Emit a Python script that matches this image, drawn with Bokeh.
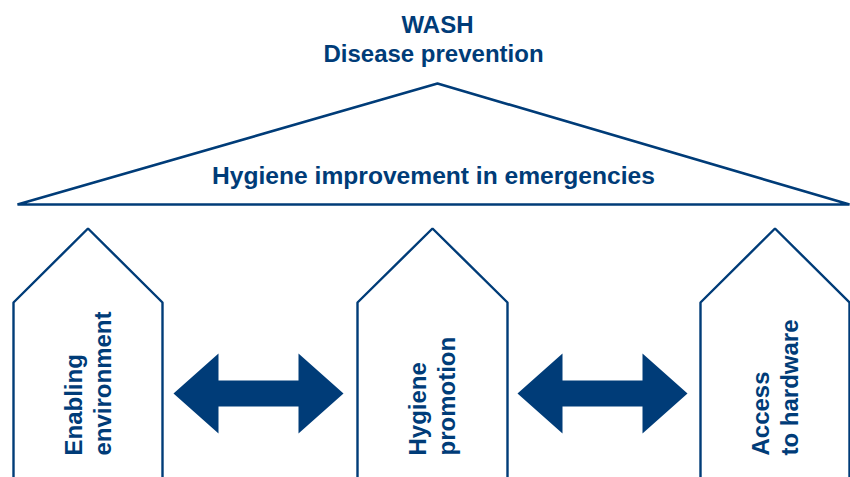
from bokeh.plotting import figure
from bokeh.models import Range1d, ColumnDataSource
from bokeh.core.properties import value
from bokeh.embed import file_html
from bokeh.resources import INLINE
import math

# ---- diagram content (reference pixel coordinates) ----
title_lines = ["WASH", "Disease prevention"]
roof_label = "Hygiene improvement in emergencies"
pillar_line1 = ["Enabling", "Hygiene", "Access"]
pillar_line2 = ["environment", "promotion", "to hardware"]
pillar_left = [13, 357, 700]
pillar_right = [162, 507, 849]
arrow_left = [173, 517]
arrow_right = [343, 687]

BLUE = "#003C78"
FONT = "Liberation Sans"

W, H = 850, 477
p = figure(width=W, height=H, output_backend="svg", toolbar_location=None,
           x_range=Range1d(0, 850), y_range=Range1d(477, 0),
           x_axis_type=None, y_axis_type=None, min_border=0,
           outline_line_color=None, background_fill_color="white")
p.grid.visible = False

# roof
roof_y_base, roof_apex_x, roof_apex_y = 204, 437, 83
p.patch([17, roof_apex_x, 849], [roof_y_base, roof_apex_y, roof_y_base],
        fill_color="white", line_color=BLUE, line_width=2.6)

# pillars (open at the bottom)
apex_y, shoulder_y, bottom_y = 228, 302, 480
xs, ys = [], []
for l, r in zip(pillar_left, pillar_right):
    xs.append([l, l, (l + r) / 2, r, r])
    ys.append([bottom_y, shoulder_y, apex_y, shoulder_y, bottom_y])
p.multi_line(xs, ys, line_color=BLUE, line_width=2.4)

# double arrows
ay, head_h, shaft_h, head_w = 393, 40, 13, 45
axs, ays = [], []
for x0, x1 in zip(arrow_left, arrow_right):
    axs.append([x0, x0 + head_w, x0 + head_w, x1 - head_w, x1 - head_w, x1,
                x1 - head_w, x1 - head_w, x0 + head_w, x0 + head_w])
    ays.append([ay, ay - head_h, ay - shaft_h, ay - shaft_h, ay - head_h, ay,
                ay + head_h, ay + shaft_h, ay + shaft_h, ay + head_h])
p.patches(axs, ays, fill_color=BLUE, line_color=None)

# titles
p.text(x=[437, 433], y=[24, 53], text=title_lines, text_color=BLUE,
       text_font=value(FONT), text_font_style="bold", text_font_size="24px",
       text_align="center", text_baseline="alphabetic")
p.text(x=[433], y=[175], text=[roof_label], text_color=BLUE,
       text_font=value(FONT), text_font_style="bold", text_font_size="24.6px",
       text_align="center", text_baseline="alphabetic")

# pillar labels (rotated, reading bottom to top)
src = ColumnDataSource(dict(
    x=[l + 60 for l in pillar_left] + [l + 89 for l in pillar_left],
    y=[455] * 6,
    t=pillar_line1 + pillar_line2,
))
p.text(x="x", y="y", text="t", source=src, angle=math.pi / 2,
       text_color=BLUE, text_font=value(FONT), text_font_style="bold",
       text_font_size="24px", text_align="left", text_baseline="alphabetic")

open("out.html", "w").write(file_html(p, INLINE))
